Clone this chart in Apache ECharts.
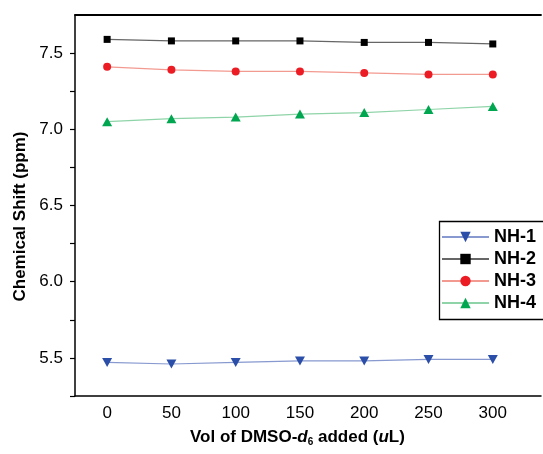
<!DOCTYPE html>
<html>
<head>
<meta charset="utf-8">
<script src="https://cdn.jsdelivr.net/npm/echarts@6/dist/echarts.min.js"></script>
<style>html,body{margin:0;padding:0;background:#fff;}#c{width:543px;height:454px;}</style>
</head>
<body>
<div id="c"></div>
<script>
var volumes = [0, 50, 100, 150, 200, 250, 300];
var nh1 = [5.47, 5.46, 5.47, 5.48, 5.48, 5.49, 5.49];
var nh2 = [7.59, 7.58, 7.58, 7.58, 7.57, 7.57, 7.56];
var nh3 = [7.41, 7.39, 7.38, 7.38, 7.37, 7.36, 7.36];
var nh4 = [7.05, 7.07, 7.08, 7.10, 7.11, 7.13, 7.15];
var seriesNames = ['NH-1', 'NH-2', 'NH-3', 'NH-4'];
var xTickLabels = ['0', '50', '100', '150', '200', '250', '300'];
var yTickLabels = ['5.5', '6.0', '6.5', '7.0', '7.5'];

function pairs(vals) { return volumes.map(function (v, i) { return [v, vals[i]]; }); }
var xLabelVals = xTickLabels.map(Number);
var yLabelVals = yTickLabels.map(Number);
var yTickVals = [];
yLabelVals.forEach(function (v) { yTickVals.push(+(v - 0.25).toFixed(2), v); });

var font = '"Liberation Sans", Arial, sans-serif';
var downTri = 'path://M0,0 L10,0 L5,9 Z';

var chart = echarts.init(document.getElementById('c'), null, { renderer: 'canvas' });
chart.setOption({
  animation: false,
  backgroundColor: '#fff',
  grid: { left: 75, top: 15, right: 2, bottom: 58, containLabel: false },
  xAxis: [{
    type: 'value', min: -25, max: 337.5,
    axisLine: { show: true, onZero: false, lineStyle: { color: '#000', width: 1.5 } },
    axisTick: { show: false },
    splitLine: { show: false },
    axisLabel: {
      color: '#000', fontFamily: font, fontSize: 17, margin: 9,
      customValues: xLabelVals,
      formatter: function (v) { return String(Math.round(v)); }
    }
  }, {
    type: 'value', position: 'top', min: -25, max: 337.5,
    axisLine: { show: true, onZero: false, lineStyle: { color: '#000', width: 1.8 } },
    axisTick: { show: false }, axisLabel: { show: false }, splitLine: { show: false }
  }],
  yAxis: {
    type: 'value', min: 5.25, max: 7.75,
    axisLine: { show: true, onZero: false, lineStyle: { color: '#000', width: 1.5 } },
    axisTick: { show: true, inside: false, length: 5, customValues: yTickVals, lineStyle: { color: '#000', width: 1.2 } },
    splitLine: { show: false },
    axisLabel: {
      color: '#000', fontFamily: font, fontSize: 17, margin: 12,
      customValues: yLabelVals,
      formatter: function (v) { return v.toFixed(1); }
    },
    name: 'Chemical Shift (ppm)', nameLocation: 'middle', nameGap: 45, nameRotate: 90,
    nameTextStyle: { color: '#000', fontFamily: font, fontSize: 17, fontWeight: 'bold', padding: [0, 0, 0, -22] }
  },
  legend: {
    orient: 'vertical', left: 439, top: 221,
    padding: [7, 0, 7, 2], itemGap: 4, itemWidth: 47, itemHeight: 13,
    borderWidth: 0,
    textStyle: { color: '#000', fontFamily: font, fontSize: 18, fontWeight: 'bold' },
    data: seriesNames
  },
  series: [
    { name: seriesNames[0], type: 'line', data: pairs(nh1), symbol: downTri, symbolSize: [10, 9],
      itemStyle: { color: '#2b4ea8' }, lineStyle: { color: '#8799cf', width: 1.2 } },
    { name: seriesNames[1], type: 'line', data: pairs(nh2), symbol: 'rect', symbolSize: 7,
      itemStyle: { color: '#000' }, lineStyle: { color: '#666', width: 1.2 } },
    { name: seriesNames[2], type: 'line', data: pairs(nh3), symbol: 'circle', symbolSize: 8,
      itemStyle: { color: '#ec1c24' }, lineStyle: { color: '#f39a90', width: 1.2 } },
    { name: seriesNames[3], type: 'line', data: pairs(nh4), symbol: 'triangle', symbolSize: [10, 9],
      itemStyle: { color: '#00a650' }, lineStyle: { color: '#8fd4a8', width: 1.2 } }
  ],
  graphic: [{
    type: 'rect', silent: true, z: 10,
    shape: { x: 439.5, y: 221.5, width: 200, height: 98 },
    style: { fill: 'none', stroke: '#000', lineWidth: 1.3 }
  }, {
    type: 'text', left: 190, top: 429,
    style: {
      text: '{b|Vol of DMSO-}{bi|d}{sub|6}{b| added (}{bi|u}{b|L)}',
      rich: {
        b: { fontFamily: font, fontSize: 17, fontWeight: 'bold', fill: '#000' },
        bi: { fontFamily: font, fontSize: 17, fontWeight: 'bold', fontStyle: 'italic', fill: '#000' },
        sub: { fontFamily: font, fontSize: 10, fontWeight: 'bold', fill: '#000', padding: [10, 0, 0, 0] }
      }
    }
  }]
});
</script>
</body>
</html>
